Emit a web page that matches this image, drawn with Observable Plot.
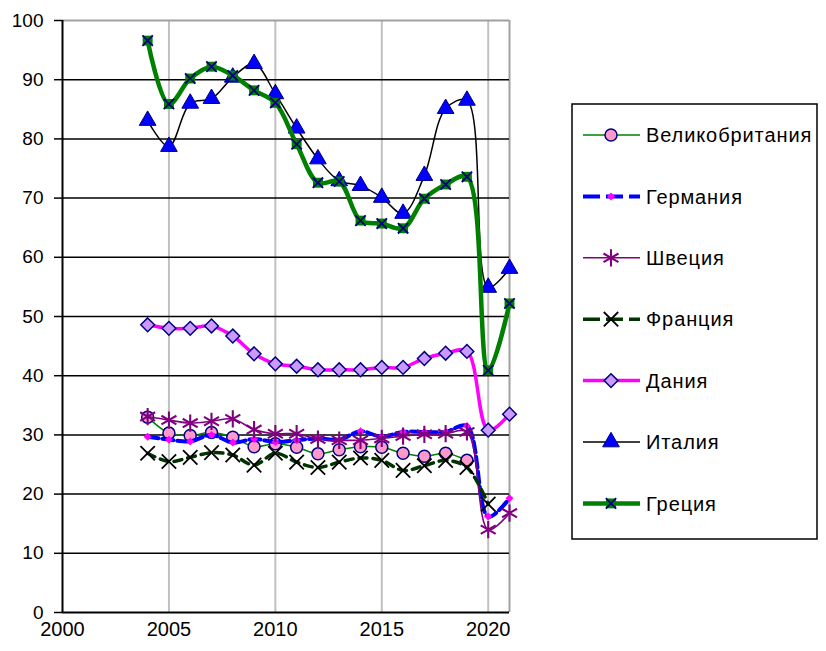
<!DOCTYPE html>
<html>
<head>
<meta charset="utf-8">
<script src="https://cdn.jsdelivr.net/npm/d3@7"></script>
<script src="https://cdn.jsdelivr.net/npm/@observablehq/plot@0.6"></script>
<style>
  html, body { margin: 0; padding: 0; background: white; }
  #wrap { position: relative; width: 826px; height: 651px; }
  #wrap > svg { position: absolute; left: 0; top: 0; }
</style>
</head>
<body>
<div id="wrap"></div>
<script>
// ---- data ----
const years = [2004, 2005, 2006, 2007, 2008, 2009, 2010, 2011, 2012, 2013, 2014, 2015, 2016, 2017, 2018, 2019, 2020, 2021];
const seriesNames = ["Великобритания", "Германия", "Швеция", "Франция", "Дания", "Италия", "Греция"];
const uk      = [33.0, 30.3, 29.9, 30.4, 29.6, 28.0, 28.5, 27.9, 26.8, 27.5, 28.0, 27.9, 26.9, 26.4, 26.9, 25.7, null, null];
const germany = [29.7, 29.2, 28.9, 30.0, 28.7, 29.3, 28.8, 29.1, 29.4, 29.2, 30.6, 29.7, 30.5, 30.5, 30.5, 31.5, 16.2, 19.3];
const sweden  = [33.1, 32.5, 32.0, 32.3, 32.7, 30.9, 30.2, 30.2, 29.3, 29.1, 29.1, 29.4, 29.8, 30.1, 30.2, 30.5, 14.0, 16.8];
const france  = [26.9, 25.5, 26.2, 27.0, 26.6, 24.9, 26.9, 25.4, 24.5, 25.4, 26.1, 25.7, 24.0, 24.8, 25.7, 24.5, 18.3, null];
const denmark = [48.6, 48.0, 48.0, 48.4, 46.7, 43.7, 42.0, 41.6, 41.0, 41.0, 41.0, 41.4, 41.4, 42.9, 43.8, 44.1, 30.8, 33.5];
const italy   = [83.1, 78.7, 86.0, 86.8, 90.4, 92.7, 87.6, 81.8, 76.6, 72.9, 72.1, 70.1, 67.4, 73.8, 85.1, 86.5, 54.9, 58.1];
const greece  = [96.6, 85.9, 90.2, 92.2, 90.7, 88.2, 86.1, 79.1, 72.6, 72.8, 66.2, 65.7, 64.9, 69.9, 72.3, 73.6, 40.9, 52.2];
const xTicks = [2000, 2005, 2010, 2015, 2020];
const yTicks = [0, 10, 20, 30, 40, 50, 60, 70, 80, 90, 100];

// ---- styles (kept separate from data) ----
const styles = [
  {values: uk,      line: {stroke: "#008000", strokeWidth: 1.5},
   dots: [{symbol: "circle", r: 6, fill: "#ff99cc", stroke: "#000080", strokeWidth: 1.5}]},
  {values: germany, line: {stroke: "#0000ff", strokeWidth: 4, strokeDasharray: "11,4"},
   dots: [{symbol: "diamond2", r: 3.6, fill: "#ff00ff", stroke: "none"}]},
  {values: sweden,  line: {stroke: "#800080", strokeWidth: 1.6},
   dots: [{symbol: "asterisk", r: 8.2, fill: "none", stroke: "#800080", strokeWidth: 2.1}]},
  {values: france,  line: {stroke: "#003300", strokeWidth: 3.5, strokeDasharray: "8,6"},
   dots: [{symbol: "times", r: 6.6, fill: "none", stroke: "#000000", strokeWidth: 1.8}]},
  {values: denmark, line: {stroke: "#ff00ff", strokeWidth: 3.5},
   dots: [{symbol: "diamond2", r: 6.2, fill: "#cc99ff", stroke: "#000080", strokeWidth: 1.5}]},
  {values: italy,   line: {stroke: "#000000", strokeWidth: 1.5},
   dots: [{symbol: "triangle", r: 6.2, fill: "#0000ff", stroke: "#000080", strokeWidth: 1}]},
  {values: greece,  line: {stroke: "#008000", strokeWidth: 4.5},
   dots: [{symbol: "square", r: 5.6, fill: "#008000", stroke: "none"},
          {symbol: "times", r: 4.8, fill: "none", stroke: "#000080", strokeWidth: 1.8}]}
];

const seriesMarks = [];
styles.forEach((s) => {
  const rows = years.map((yr, i) => ({year: yr, value: s.values[i]}));
  seriesMarks.push(Plot.line(rows, {x: "year", y: "value", curve: "catmull-rom", ...s.line}));
  const pts = rows.filter(d => d.value != null);
  s.dots.forEach(dt => seriesMarks.push(Plot.dot(pts, {x: "year", y: "value", ...dt})));
});

const chart = Plot.plot({
  width: 826,
  height: 651,
  marginLeft: 62,
  marginRight: 317,
  marginTop: 20,
  marginBottom: 39,
  style: {fontFamily: "'Liberation Sans', Arial, sans-serif", color: "black", background: "white", overflow: "visible"},
  x: {domain: [2000, 2021]},
  y: {domain: [0, 100]},
  marks: [
    Plot.gridX(xTicks.filter(t => t > 2000), {stroke: "#c0c0c0", strokeOpacity: 1, strokeWidth: 2}),
    Plot.ruleX([2021], {stroke: "#a0a0a0", strokeWidth: 2}),
    Plot.gridY(yTicks.filter(t => t > 0 && t < 100), {stroke: "#000000", strokeOpacity: 1, strokeWidth: 1.5}),
    Plot.ruleY([100], {stroke: "#a0a0a0", strokeWidth: 2}),
    Plot.axisY({ticks: yTicks, tickSize: 8, tickPadding: 11, fontSize: 19, label: null, tickFormat: d => String(d), strokeWidth: 1.5}),
    Plot.axisX({ticks: xTicks, tickSize: 0, tickPadding: 9, fontSize: 20, label: null, tickFormat: d => String(d)}),
    ...seriesMarks,
    Plot.ruleY([0], {stroke: "#000000", strokeWidth: 2}),
    Plot.ruleX([2000], {stroke: "#000000", strokeWidth: 2})
  ]
});
document.getElementById("wrap").appendChild(chart);

// ---- legend (separate SVG overlay, right side) ----
const leg = d3.select("#wrap").append("svg")
  .attr("width", 826).attr("height", 651)
  .style("pointer-events", "none");
const boxX = 572, boxY = 104, boxW = 245, boxH = 435;
leg.append("rect").attr("x", boxX).attr("y", boxY).attr("width", boxW).attr("height", boxH)
  .attr("fill", "white").attr("stroke", "black").attr("stroke-width", 1.5);
const symMap = {circle: d3.symbolCircle, diamond2: d3.symbolDiamond2, asterisk: d3.symbolAsterisk,
  times: d3.symbolTimes, triangle: d3.symbolTriangle, square: d3.symbolSquare};
seriesNames.forEach((name, i) => {
  const s = styles[i];
  const cy = boxY + 31 + i * 61.4;
  const g = leg.append("g");
  g.append("line").attr("x1", boxX + 11).attr("x2", boxX + 68).attr("y1", cy).attr("y2", cy)
    .attr("stroke", s.line.stroke).attr("stroke-width", s.line.strokeWidth)
    .attr("stroke-dasharray", s.line.strokeDasharray ? "17,6" : null);
  s.dots.forEach(dt => {
    g.append("path")
      .attr("d", d3.symbol(symMap[dt.symbol], Math.PI * dt.r * dt.r)())
      .attr("transform", `translate(${boxX + 39},${cy})`)
      .attr("fill", dt.fill).attr("stroke", dt.stroke).attr("stroke-width", dt.strokeWidth || 1);
  });
  g.append("text").attr("x", boxX + 74).attr("y", cy).attr("dy", "0.36em")
    .attr("font-family", "'Liberation Sans', Arial, sans-serif").attr("font-size", 20)
    .attr("letter-spacing", "0.9px").attr("fill", "black").text(name);
});
</script>
</body>
</html>
